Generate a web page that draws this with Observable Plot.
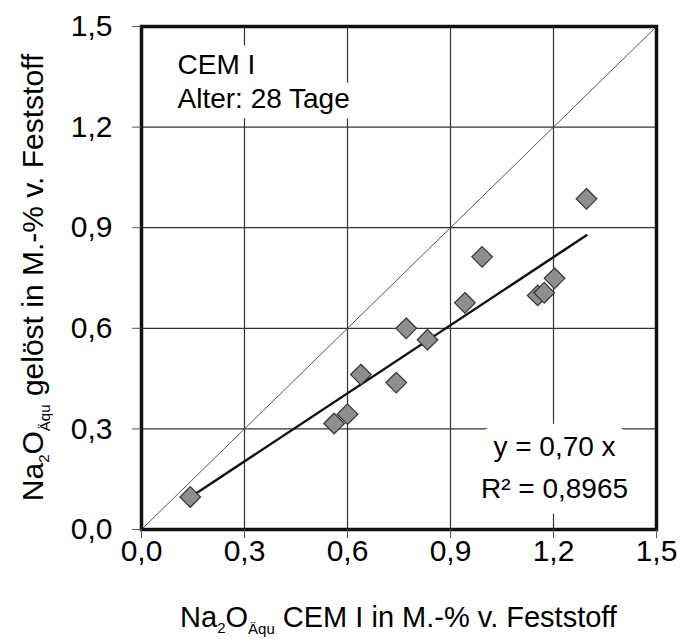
<!DOCTYPE html>
<html>
<head>
<meta charset="utf-8">
<script src="https://cdn.jsdelivr.net/npm/d3@7"></script>
<script src="https://cdn.jsdelivr.net/npm/@observablehq/plot@0.6"></script>
<style>
  html, body { margin: 0; padding: 0; background: white; }
  #chart svg { display: block; }
</style>
</head>
<body>
<div id="chart"></div>
<script>
// --- data ---
const xValues = [0.142, 0.561, 0.600, 0.639, 0.742, 0.771, 0.833, 0.942, 0.992, 1.154, 1.173, 1.203, 1.296];
const yValues = [0.097, 0.316, 0.344, 0.462, 0.438, 0.600, 0.566, 0.676, 0.813, 0.698, 0.706, 0.749, 0.986];
const tickValues = [0, 0.3, 0.6, 0.9, 1.2, 1.5];
const gridValues = [0.3, 0.6, 0.9, 1.2];
const noteLines = ["CEM I", "Alter: 28 Tage"];
const slopeLabel = 0.70;
const r2Label = 0.8965;
const xTitle = ["Na", "2", "O", "Äqu", " CEM I in M.-% v. Feststoff"];
const yTitle = ["Na", "2", "O", "Äqu", " gelöst in M.-% v. Feststoff"];

const points = xValues.map((x, i) => ({x, y: yValues[i]}));
// regression through the origin
const slope = d3.sum(points, d => d.x * d.y) / d3.sum(points, d => d.x * d.x);
const [xmin, xmax] = d3.extent(xValues);
const trend = [xmin, xmax].map(x => ({x, y: slope * x}));
const diag = d3.extent(tickValues);

const fmt = (v, n) => v.toFixed(n).replace(".", ",");

const W = 682, H = 639;
const font = "'Liberation Sans', Arial, Helvetica, sans-serif";

const chart = Plot.plot({
  width: W,
  height: H,
  marginLeft: 141,
  marginRight: 26,
  marginTop: 26,
  marginBottom: 110,
  style: {fontFamily: font, background: "white", color: "black"},
  x: {domain: d3.extent(tickValues)},
  y: {domain: d3.extent(tickValues)},
  marks: [
    Plot.ruleX(gridValues, {stroke: "#333", strokeWidth: 1.2}),
    Plot.ruleY(gridValues, {stroke: "#333", strokeWidth: 1.2}),
    Plot.text([noteLines.join("\n")], {
      frameAnchor: "top-left", textAnchor: "start", lineAnchor: "top",
      dx: 36, dy: 23, fontSize: 28, lineHeight: 1.22,
      fill: "black", stroke: "white", strokeWidth: 22
    }),
    Plot.text([`y = ${fmt(slopeLabel, 2)} x\nR² = ${fmt(r2Label, 4)}`], {
      frameAnchor: "bottom-right", textAnchor: "middle", lineAnchor: "bottom",
      dx: -102, dy: -32, fontSize: 28, lineHeight: 1.5,
      fill: "black", stroke: "white", strokeWidth: 28
    }),
    Plot.line(diag, {x: d => d, y: d => d, stroke: "#555", strokeWidth: 1}),
    Plot.line(trend, {x: "x", y: "y", stroke: "#111", strokeWidth: 2.5}),
    Plot.dot(points, {x: "x", y: "y", symbol: "diamond2", r: 9.3, fill: "#8e8e8e", stroke: "#333", strokeWidth: 1.2}),
    Plot.frame({stroke: "#111", strokeWidth: 3.5}),
    Plot.axisX(tickValues, {tickSize: 9, tickPadding: 1, tickFormat: d => fmt(d, 1), fontSize: 30, stroke: "#555", fill: "black", label: null}),
    Plot.axisY(tickValues, {tickSize: 9, tickPadding: 20, tickFormat: d => fmt(d, 1), fontSize: 30, stroke: "#555", fill: "black", label: null})
  ]
});

document.getElementById("chart").appendChild(chart);

// axis titles with subscripts
const svg = d3.select(chart);
function addTitle(parts, transform, size) {
  const t = svg.append("text")
    .attr("transform", transform)
    .attr("text-anchor", "middle")
    .attr("font-family", font)
    .attr("font-size", size)
    .attr("fill", "black");
  t.append("tspan").text(parts[0]);
  t.append("tspan").attr("font-size", 15).attr("dy", 6).text(parts[1]);
  t.append("tspan").attr("dy", -6).text(parts[2]);
  t.append("tspan").attr("font-size", 15).attr("dy", 7).text(parts[3]);
  t.append("tspan").attr("dy", -7).text(parts[4]);
}
addTitle(xTitle, `translate(${(141 + W - 26) / 2},627)`, 29);
addTitle(yTitle, `translate(43,${(26 + H - 110) / 2}) rotate(-90)`, 30);
</script>
</body>
</html>
